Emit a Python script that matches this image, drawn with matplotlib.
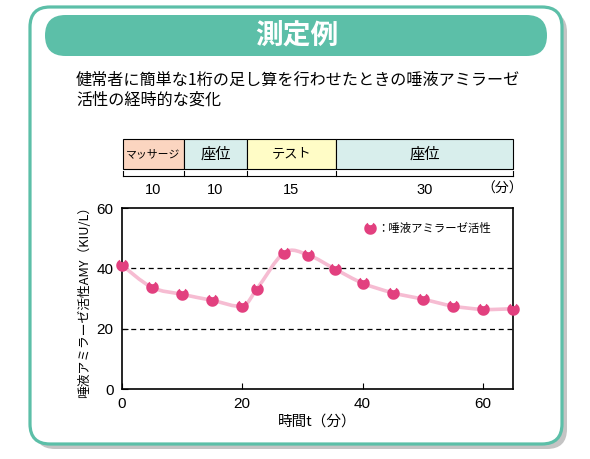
import numpy as np
import matplotlib
matplotlib.use('Agg')
import matplotlib.pyplot as plt
from matplotlib.patches import FancyBboxPatch, Rectangle, PathPatch
from matplotlib.path import Path
from matplotlib.lines import Line2D

plt.rcParams['font.family'] = ['Noto Sans CJK JP', 'DejaVu Sans']

# data
time_min = [0, 5, 10, 15, 20, 22.5, 27, 31, 35.5, 40, 45, 50, 55, 60, 65]
amylase = [41.1, 33.7, 31.4, 29.4, 27.6, 33.3, 45.2, 44.4, 39.7, 35.1, 31.9, 29.8, 27.5, 26.4, 26.6]

phase_labels = ['マッサージ', '座位', 'テスト', '座位']
phase_minutes = ['10', '10', '15', '30']
phase_colors = ['#fbd5c0', '#d8eeec', '#fffcc6', '#d8eeec']
phase_fonts = [7.8, 11, 9.5, 11]

x_ticks = [0, 20, 40, 60]
y_ticks = [0, 20, 40, 60]

title = '測定例'
subtitle = ['健常者に簡単な1桁の足し算を行わせたときの唾液アミラーゼ', '活性の経時的な変化']
ylabel = '唾液アミラーゼ活性AMY（KIU/L）'
xlabel = '時間t（分）'
legend_label = '：唾液アミラーゼ活性'

TEAL = '#5cbfa8'
PINK = '#e2407f'
LINE_PINK = '#f6bcd2'

# phase bar edges in pixels (not proportional to minutes in the original)
phase_edges = [123, 184, 247, 336, 513]

fig = plt.figure(figsize=(5.9, 4.59), dpi=100)

bg = fig.add_axes([0, 0, 1, 1])
bg.set_xlim(0, 590)
bg.set_ylim(459, 0)
bg.axis('off')

# frame with shadow
bg.add_patch(FancyBboxPatch((35, 12), 532, 437, boxstyle='round,pad=0,rounding_size=20',
                            fc='#c4c4c4', ec='none'))
bg.add_patch(FancyBboxPatch((30, 7), 532, 437, boxstyle='round,pad=0,rounding_size=20',
                            fc='white', ec=TEAL, lw=2.3))
bg.add_patch(FancyBboxPatch((45, 15), 502, 41, boxstyle='round,pad=0,rounding_size=20.5',
                            fc=TEAL, ec='none'))
bg.text(297, 36, title, color='white', fontsize=20, fontweight='bold', ha='center', va='center')

bg.text(76, 80, subtitle[0], fontsize=11.6, va='center')
bg.text(76, 100, subtitle[1], fontsize=11.6, va='center')

# phase bar
for i, lab in enumerate(phase_labels):
    x0, x1 = phase_edges[i], phase_edges[i + 1]
    bg.add_patch(Rectangle((x0, 139), x1 - x0, 30, fc=phase_colors[i], ec='black', lw=0.8))
    bg.text((x0 + x1) / 2, 154, lab, fontsize=phase_fonts[i], ha='center', va='center')
    bg.text((x0 + x1) / 2, 190, phase_minutes[i], fontsize=10.5, ha='center', va='center',
            family=['Liberation Sans', 'DejaVu Sans'])
bg.plot([phase_edges[0], phase_edges[-1]], [176, 176], color='black', lw=0.8)
for e in phase_edges:
    bg.plot([e, e], [171, 176], color='black', lw=0.8)
bg.text(502, 189, '（分）', fontsize=10, ha='center', va='center')

# marker: circle with a small bite at the top
c, r = 0.95, 0.42
yi = (1 + c ** 2 - r ** 2) / (2 * c)
a0 = np.arctan2(yi, np.sqrt(1 - yi ** 2))
outer = np.linspace(a0, a0 - (2 * np.pi - 2 * (np.pi / 2 - a0)), 40)
b0 = np.arctan2(yi - c, -np.sqrt(1 - yi ** 2))
b1 = np.arctan2(yi - c, np.sqrt(1 - yi ** 2)) + 2 * np.pi
bite = np.linspace(b0 % (2 * np.pi), b1, 20)
verts = np.vstack([np.column_stack([np.cos(outer), np.sin(outer)]),
                   np.column_stack([r * np.cos(bite), c + r * np.sin(bite)])])
marker = Path(np.vstack([verts, verts[:1]]), closed=True)

ax = fig.add_axes([0.2063, 0.1525, 0.6632, 0.3943])
ax.set_xlim(0, 65)
ax.set_ylim(0, 60)
ax.set_xticks(x_ticks)
ax.set_yticks(y_ticks)
ax.tick_params(direction='in', length=4, width=0.8, labelsize=11, pad=6)
for lab in ax.get_xticklabels() + ax.get_yticklabels():
    lab.set_family(['Liberation Sans', 'DejaVu Sans'])
for s in ax.spines.values():
    s.set_linewidth(1.2)
for yv in [20, 40]:
    ax.axhline(yv, color='black', ls=(0, (4, 3)), lw=0.9, zorder=1)

# smooth curve through the points (Catmull-Rom as bezier)
P = np.column_stack([time_min, amylase])
Pe = np.vstack([P[:1], P, P[-1:]])
pverts = [P[0]]
codes = [Path.MOVETO]
for i in range(len(P) - 1):
    p0, p1, p2, p3 = Pe[i], Pe[i + 1], Pe[i + 2], Pe[i + 3]
    pverts += [p1 + (p2 - p0) / 6, p2 - (p3 - p1) / 6, p2]
    codes += [Path.CURVE4] * 3
ax.add_patch(PathPatch(Path(pverts, codes), fill=False, ec=LINE_PINK, lw=2.6,
                       capstyle='round', zorder=2, clip_on=False))
ax.plot(time_min, amylase, ls='none', marker=marker, ms=9, color=PINK, mec='none',
        zorder=3, clip_on=False)

ax.set_ylabel(ylabel, fontsize=9.2)
ax.yaxis.set_label_coords(-0.078, 0.5)
ax.set_xlabel(xlabel, fontsize=10.5)
ax.xaxis.set_label_coords(0.5, -0.14)

h = Line2D([], [], ls='none', marker=marker, ms=9, color=PINK, mec='none')
ax.legend([h], [legend_label], loc='upper right', bbox_to_anchor=(0.97, 0.975),
          frameon=False, handletextpad=0.0, handlelength=1.2, fontsize=8.2)

fig.savefig('out.png', dpi=100)
